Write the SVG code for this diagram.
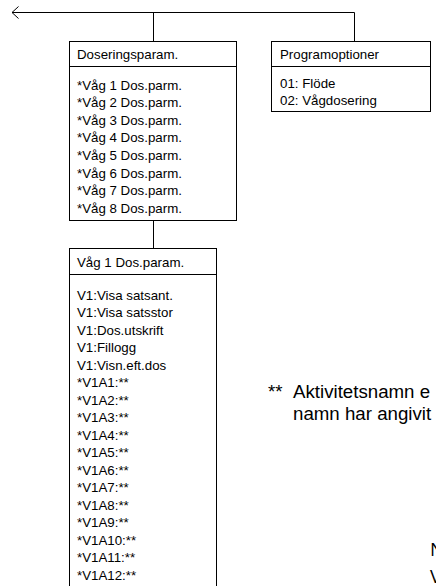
<svg xmlns="http://www.w3.org/2000/svg" width="436" height="586" viewBox="0 0 436 586">
<style>
.box{fill:#fff;stroke:#000;stroke-width:1}
.ln{fill:none;stroke:#000;stroke-width:1}
.t{font-family:"Liberation Sans",Arial,sans-serif;font-size:13.3px;fill:#000}
.f{font-family:"Liberation Sans",Arial,sans-serif;font-size:18.7px;fill:#000}
.c{font-family:"Open Sans","Liberation Sans",sans-serif;font-size:18.7px;fill:#000}
</style>
<rect width="436" height="586" fill="#fff"/>
<g id="connectors">
<path class="ln" d="M12,12.5 H354.5 M153.5,12.5 V41.5 M354.5,12.5 V41.5 M153.5,220.5 V248.5"/>
<path class="ln" d="M18.5,6.5 L12,12.5 L18.5,18.5"/>
</g>
<g id="dosparam">
<rect class="box" x="69.5" y="41.5" width="167" height="179"/>
<path class="ln" d="M69.5,66.5 H236.5"/>
<text class="t" x="77" y="59">Doseringsparam.</text>
<text class="t" x="77" y="89.5">*Våg 1 Dos.parm.</text>
<text class="t" x="77" y="107.1">*Våg 2 Dos.parm.</text>
<text class="t" x="77" y="124.7">*Våg 3 Dos.parm.</text>
<text class="t" x="77" y="142.3">*Våg 4 Dos.parm.</text>
<text class="t" x="77" y="159.9">*Våg 5 Dos.parm.</text>
<text class="t" x="77" y="177.5">*Våg 6 Dos.parm.</text>
<text class="t" x="77" y="195.1">*Våg 7 Dos.parm.</text>
<text class="t" x="77" y="212.7">*Våg 8 Dos.parm.</text>
</g>
<g id="programoptioner">
<rect class="box" x="271.5" y="41.5" width="159" height="70"/>
<path class="ln" d="M271.5,66.5 H430.5"/>
<text class="t" x="280" y="59">Programoptioner</text>
<text class="t" x="280" y="87.5">01: Flöde</text>
<text class="t" x="280" y="104.5">02: Vågdosering</text>
</g>
<g id="vag1">
<rect class="box" x="69.5" y="248.5" width="147" height="360"/>
<path class="ln" d="M69.5,274.5 H216.5"/>
<text class="t" x="77" y="266.5">Våg 1 Dos.param.</text>
<text class="t" x="77" y="299.5">V1:Visa satsant.</text>
<text class="t" x="77" y="317">V1:Visa satsstor</text>
<text class="t" x="77" y="334.5">V1:Dos.utskrift</text>
<text class="t" x="77" y="352">V1:Fillogg</text>
<text class="t" x="77" y="369.5">V1:Visn.eft.dos</text>
<text class="t" x="77" y="387">*V1A1:**</text>
<text class="t" x="77" y="404.5">*V1A2:**</text>
<text class="t" x="77" y="422">*V1A3:**</text>
<text class="t" x="77" y="439.5">*V1A4:**</text>
<text class="t" x="77" y="457">*V1A5:**</text>
<text class="t" x="77" y="474.5">*V1A6:**</text>
<text class="t" x="77" y="492">*V1A7:**</text>
<text class="t" x="77" y="509.5">*V1A8:**</text>
<text class="t" x="77" y="527">*V1A9:**</text>
<text class="t" x="77" y="544.5">*V1A10:**</text>
<text class="t" x="77" y="562">*V1A11:**</text>
<text class="t" x="77" y="579.5">*V1A12:**</text>
</g>
<g id="footnote">
<text class="f" x="268" y="398">**</text>
<text class="f" x="293" y="398">Aktivitetsnamn e</text>
<text class="f" x="293" y="420">namn har angivit</text>
</g>
<g id="note">
<text class="c" x="430" y="556">N</text>
<text class="c" x="430" y="583">V</text>
</g>
</svg>
